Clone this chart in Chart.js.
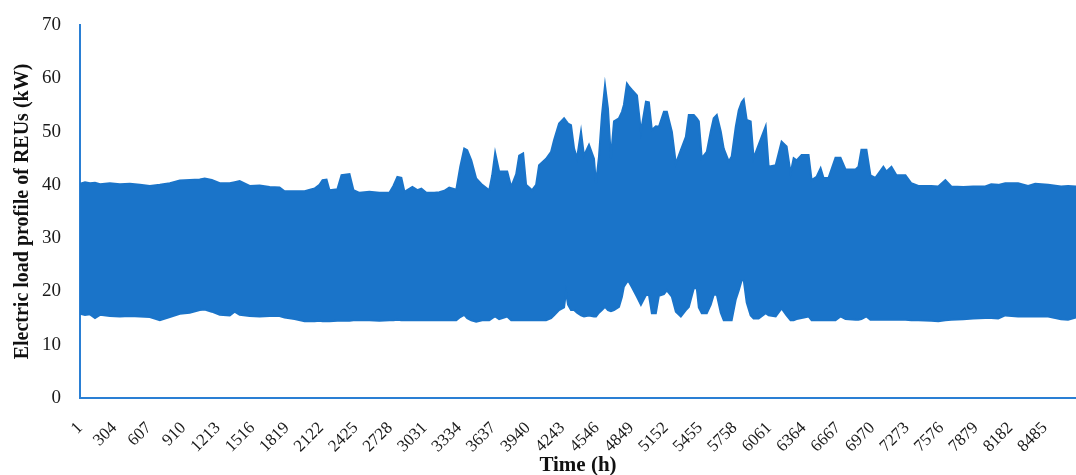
<!DOCTYPE html>
<html>
<head>
<meta charset="utf-8">
<title>Electric load profile of REUs</title>
<script src="https://cdn.jsdelivr.net/npm/chart.js@4.4.1/dist/chart.umd.min.js"></script>
<style>
  html, body { margin: 0; padding: 0; background: #fff; }
  #load-chart { display: block; }
</style>
</head>
<body>
<canvas id="load-chart" width="1076" height="475"></canvas>
<script>
const hours = [
    1, 45, 89, 133, 177, 264, 352, 440, 528, 615, 703, 791, 879, 966, 1054, 1098, 1160, 1230,
    1318, 1361, 1405, 1493, 1581, 1669, 1756, 1800, 1888, 1976, 2064, 2107, 2134, 2169, 2195,
    2265, 2301, 2371, 2406, 2459, 2546, 2634, 2722, 2757, 2792, 2827, 2854, 2924, 2968, 3003,
    3047, 3117, 3161, 3205, 3248, 3310, 3345, 3380, 3406, 3442, 3485, 3538, 3600, 3626, 3652,
    3687, 3758, 3793, 3837, 3863, 3898, 3924, 3977, 4012, 4038, 4100, 4144, 4170, 4214, 4258,
    4275, 4293, 4319, 4346, 4372, 4407, 4433, 4477, 4521, 4539, 4565, 4591, 4618, 4644, 4670,
    4697, 4741, 4767, 4784, 4811, 4828, 4855, 4899, 4934, 4978, 5004, 5030, 5065, 5092, 5136,
    5162, 5206, 5241, 5285, 5329, 5355, 5399, 5425, 5443, 5469, 5513, 5548, 5574, 5601, 5636,
    5662, 5706, 5732, 5768, 5794, 5820, 5838, 5864, 5899, 5925, 5969, 6031, 6057, 6119, 6171,
    6215, 6250, 6277, 6303, 6347, 6408, 6435, 6478, 6514, 6540, 6584, 6645, 6689, 6733, 6821,
    6847, 6873, 6917, 6952, 6996, 7066, 7093, 7137, 7181, 7260, 7312, 7374, 7488, 7549, 7611,
    7663, 7769, 7856, 7962, 8014, 8076, 8137, 8251, 8339, 8401, 8515, 8629, 8690, 8760
];

// daily peaks (upper edge of the band), kW
const upperLoad = [
    40.2, 40.5, 40.3, 40.4, 40.1, 40.3, 40.1, 40.2, 40.0, 39.8, 40.0, 40.3, 40.8, 40.9, 41.0, 41.2, 40.9, 40.3,
    40.3, 40.5, 40.7, 39.8, 39.9, 39.6, 39.5, 38.8, 38.8, 38.8, 39.3, 40.0, 40.9, 41.0, 39.0,
    39.2, 41.8, 42.0, 39.0, 38.5, 38.7, 38.5, 38.5, 39.8, 41.5, 41.3, 38.7, 39.6, 39.0, 39.3,
    38.5, 38.5, 38.6, 38.9, 39.5, 39.1, 43.4, 46.8, 46.5, 44.6, 41.2, 40.0, 39.0, 41.8, 46.0,
    42.5, 42.5, 39.6, 42.0, 45.5, 45.9, 40.0, 39.0, 40.0, 43.7, 44.9, 46.2, 48.4, 51.5, 52.5,
    52.0, 51.5, 51.2, 46.8, 45.0, 50.0, 45.5, 47.5, 44.9, 40.3, 45.3, 53.1, 58.7, 54.3, 45.0,
    51.9, 52.5, 53.7, 55.0, 59.0, 58.5, 57.8, 56.8, 50.0, 55.6, 55.5, 50.3, 51.0, 50.9, 53.7,
    53.7, 50.0, 44.0, 46.5, 49.0, 53.1, 53.1, 52.5, 51.9, 45.0, 46.2, 50.0, 52.5, 53.1, 50.0,
    46.8, 44.4, 45.3, 50.9, 54.0, 55.5, 56.0, 52.2, 51.9, 45.0, 47.5, 51.0, 43.4, 43.7, 48.1,
    47.2, 42.2, 45.0, 44.6, 45.6, 45.6, 40.9, 41.5, 43.1, 41.3, 41.3, 45.1, 45.1, 42.9, 42.9,
    43.4, 46.6, 46.6, 41.8, 41.3, 43.4, 42.5, 43.4, 41.8, 41.8, 40.3, 39.8, 39.8, 39.7, 40.9,
    39.7, 39.6, 39.7, 39.7, 40.1, 40.0, 40.3, 40.3, 39.8, 40.2, 40.0, 39.7, 39.8, 39.7
];

// night-time minimum (lower edge of the band), kW
const lowerLoad = [
    15.8, 15.6, 15.7, 15.0, 15.6, 15.4, 15.3, 15.4, 15.3, 15.2, 14.6, 15.2, 15.8, 16.0, 16.5, 16.6, 16.2, 15.6,
    15.5, 16.2, 15.6, 15.4, 15.3, 15.4, 15.4, 15.1, 14.8, 14.4, 14.4, 14.5, 14.4, 14.4, 14.4,
    14.5, 14.5, 14.5, 14.6, 14.6, 14.6, 14.5, 14.6, 14.6, 14.7, 14.6, 14.6, 14.6, 14.6, 14.6,
    14.6, 14.6, 14.6, 14.6, 14.6, 14.6, 15.2, 15.6, 15.0, 14.6, 14.3, 14.6, 14.6, 15.0, 15.3,
    14.8, 15.3, 14.6, 14.6, 14.6, 14.6, 14.6, 14.6, 14.6, 14.6, 14.6, 15.0, 15.5, 16.5, 17.0,
    19.9, 17.5, 16.5, 16.5, 16.0, 15.5, 15.3, 15.5, 15.3, 15.3, 16.0, 16.5, 17.1, 16.5, 16.3,
    16.5, 17.1, 19.0, 20.9, 21.8, 21.8, 20.8, 19.0, 17.5, 19.3, 19.4, 15.9, 15.9, 19.2, 19.5,
    20.2, 19.0, 16.2, 15.3, 16.5, 17.1, 20.6, 20.6, 17.0, 15.9, 15.9, 17.5, 19.4, 19.4, 16.0,
    14.6, 14.6, 14.6, 18.5, 20.2, 22.1, 22.1, 17.9, 15.5, 14.9, 14.9, 15.9, 15.5, 15.3, 16.8,
    15.5, 14.6, 14.6, 14.8, 15.0, 15.3, 14.6, 14.6, 14.6, 14.6, 14.6, 14.6, 15.3, 14.8, 14.7,
    14.7, 14.8, 15.3, 14.7, 14.7, 14.7, 14.7, 14.7, 14.7, 14.7, 14.6, 14.6, 14.5, 14.4, 14.6,
    14.7, 14.8, 14.9, 15.0, 15.0, 14.9, 15.5, 15.3, 15.3, 15.3, 15.3, 14.8, 14.7, 15.1
];

// x axis labels shown every 303 h
const xTickLabels = [1, 304, 607, 910, 1213, 1516, 1819, 2122, 2425, 2728, 3031, 3334, 3637,
    3940, 4243, 4546, 4849, 5152, 5455, 5758, 6061, 6364, 6667, 6970, 7273, 7576, 7879, 8182, 8485];

const blue = '#1a74c9';
const axisBlue = '#2a7fd4';
const serif = "'Liberation Serif', 'DejaVu Serif', serif";

const ctx = document.getElementById('load-chart');

new Chart(ctx, {
    type: 'line',
    data: {
        datasets: [
            {
                label: 'min',
                data: hours.map((h, i) => ({ x: h, y: lowerLoad[i] })),
                borderColor: blue,
                borderWidth: 2,
                pointRadius: 0,
                fill: false
            },
            {
                label: 'max',
                data: hours.map((h, i) => ({ x: h, y: upperLoad[i] })),
                borderColor: blue,
                backgroundColor: blue,
                borderWidth: 2,
                pointRadius: 0,
                fill: '-1' // fill the band between the two edges
            }
        ]
    },
    options: {
        responsive: false,
        animation: false,
        layout: { padding: { top: 25, right: 0, bottom: 0, left: 0 } },
        plugins: {
            legend: { display: false },
            tooltip: { enabled: false }
        },
        scales: {
            x: {
                type: 'linear',
                min: 1,
                max: 8760,
                grid: { display: false },
                border: { display: true, color: axisBlue, width: 2 },
                afterBuildTicks: (scale) => {
                    scale.ticks = xTickLabels.map(v => ({ value: v }));
                },
                afterFit: (scale) => { scale.height = 77; },
                ticks: {
                    autoSkip: false,
                    minRotation: 45,
                    maxRotation: 45,
                    padding: 12,
                    color: '#1a1a1a',
                    font: { family: serif, size: 17 },
                    callback: (v) => String(v)
                },
                title: {
                    display: true,
                    text: 'Time (h)',
                    color: '#111',
                    padding: { top: 0, bottom: -3 },
                    font: { family: serif, size: 21, weight: 'bold' }
                }
            },
            y: {
                min: 0,
                max: 70,
                grid: { display: false },
                border: { display: true, color: axisBlue, width: 2 },
                afterFit: (scale) => { scale.width = 80; },
                ticks: {
                    stepSize: 10,
                    padding: 11,
                    color: '#1a1a1a',
                    font: { family: serif, size: 19 }
                },
                title: {
                    display: true,
                    text: 'Electric load profile of REUs (kW)',
                    color: '#111',
                    padding: { top: 11, bottom: 0 },
                    font: { family: serif, size: 20, weight: 'bold' }
                }
            }
        }
    }
});
</script>
</body>
</html>
